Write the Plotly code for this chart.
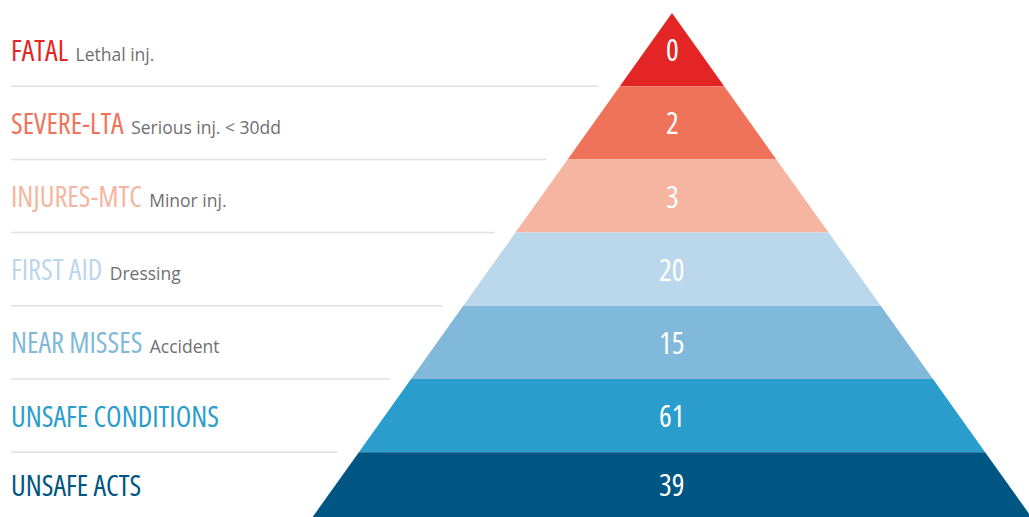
import plotly.graph_objects as go

# Safety pyramid levels, top to bottom
levels = ["FATAL", "SEVERE-LTA", "INJURES-MTC", "FIRST AID", "NEAR MISSES",
          "UNSAFE CONDITIONS", "UNSAFE ACTS"]
descriptions = ["Lethal inj.", "Serious inj. &lt; 30dd", "Minor inj.", "Dressing",
                "Accident", "", ""]
counts = [0, 2, 3, 20, 15, 61, 39]
colors = ["#E32526", "#EF735A", "#F6B5A0", "#BBD7EC", "#81B9DB", "#2B9DCD", "#005682"]

W, H = 1029, 517
apex_x, apex_y = 672, 13
tier_h = 73.2
slope = 0.713          # half-width gained per pixel of height
line_gap = 21          # space between divider end and pyramid edge

base_font = "Open Sans, sans-serif"
narrow = "font-family:Open Sans;font-stretch:75%"

fig = go.Figure()
annotations = []
shapes = []

for i, (lvl, desc, n, c) in enumerate(zip(levels, descriptions, counts, colors)):
    y0 = apex_y + i * tier_h
    y1 = apex_y + (i + 1) * tier_h
    hw0 = slope * (y0 - apex_y)
    hw1 = slope * (y1 - apex_y)
    xs = [apex_x - hw0, apex_x + hw0, apex_x + hw1, apex_x - hw1, apex_x - hw0]
    ys = [y0, y0, y1, y1, y0]
    fig.add_trace(go.Scatter(x=xs, y=ys, mode="lines", fill="toself",
                             fillcolor=c, line=dict(width=0, color=c),
                             hoverinfo="skip", showlegend=False))
    yc = (y0 + min(y1, H)) / 2
    # value inside the tier
    annotations.append(dict(x=apex_x, y=yc, text=f"<span style='{narrow}'>{n}</span>",
                            showarrow=False, xanchor="center", yanchor="middle",
                            font=dict(family=base_font, size=30, color="white")))
    # level name and description on the left
    txt = f"<span style='{narrow};color:{c}'>{lvl}</span>"
    if desc:
        txt += (f" <span style='font-family:Open Sans;font-size:17.5px;"
                f"color:#6f6f6f'>{desc}</span>")
    annotations.append(dict(x=9, y=yc, text=txt, showarrow=False,
                            xanchor="left", yanchor="middle",
                            font=dict(family=base_font, size=28.5, color=c)))
    # divider under each level except the last
    if i < len(levels) - 1:
        shapes.append(dict(type="line", x0=11, x1=apex_x - hw1 - line_gap,
                           y0=y1, y1=y1, line=dict(color="#E2E2E2", width=1.5)))

fig.update_layout(
    width=W, height=H,
    margin=dict(l=0, r=0, t=0, b=0),
    paper_bgcolor="white", plot_bgcolor="white",
    xaxis=dict(range=[0, W], visible=False, fixedrange=True),
    yaxis=dict(range=[H, 0], visible=False, fixedrange=True),
    annotations=annotations,
    shapes=shapes,
)

fig.write_html("out.html")
